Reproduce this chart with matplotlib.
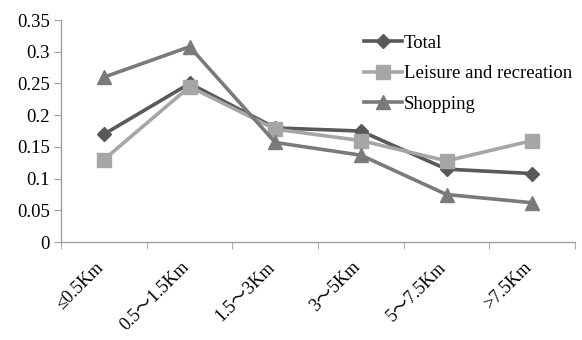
import matplotlib
matplotlib.use("Agg")
import matplotlib.pyplot as plt
from matplotlib.transforms import ScaledTranslation

plt.rcParams['font.family'] = ['Liberation Serif', 'Noto Sans CJK SC', 'DejaVu Sans']

categories = ["≤0.5Km", "0.5～1.5Km", "1.5～3Km", "3～5Km", "5～7.5Km", ">7.5Km"]
total = [0.170, 0.250, 0.180, 0.175, 0.115, 0.108]
leisure = [0.130, 0.245, 0.178, 0.160, 0.128, 0.160]
shopping = [0.260, 0.308, 0.157, 0.137, 0.075, 0.062]

fig = plt.figure(figsize=(5.82, 3.4), dpi=100)
ax = fig.add_axes([0.105, 0.288, 0.883, 0.653])

x = list(range(len(categories)))
ax.plot(x, total, color="#595959", marker="D", markersize=7.5, linewidth=2.6, label="Total")
ax.plot(x, leisure, color="#a6a6a6", marker="s", markersize=10, linewidth=2.6, label="Leisure and recreation")
ax.plot(x, shopping, color="#7a7a7a", marker="^", markersize=10, linewidth=2.6, label="Shopping")

ax.set_xlim(-0.5, len(categories) - 0.5)
ax.set_ylim(0, 0.35)
ax.set_yticks([0, 0.05, 0.1, 0.15, 0.2, 0.25, 0.3, 0.35])
ax.set_yticklabels(["0", "0.05", "0.1", "0.15", "0.2", "0.25", "0.3", "0.35"])
ax.set_xticks(x)
ax.set_xticklabels(categories, rotation=45, ha="right", rotation_mode="anchor")
ax.set_xticks([i - 0.5 for i in range(len(categories) + 1)], minor=True)
ax.tick_params(axis="x", which="major", length=0, labelsize=13, pad=12)
ax.tick_params(axis="x", which="minor", length=5, color="#a0a0a0", direction="out")
ax.tick_params(axis="y", length=5, color="#a0a0a0", labelsize=13.5, pad=3)

offset = ScaledTranslation(-9 / 100, 0, fig.dpi_scale_trans)
for lbl in ax.get_xticklabels():
    lbl.set_transform(lbl.get_transform() + offset)

for s in ["top", "right"]:
    ax.spines[s].set_visible(False)
for s in ["left", "bottom"]:
    ax.spines[s].set_color("#a0a0a0")
    ax.spines[s].set_linewidth(1.0)

ax.legend(loc="upper left", bbox_to_anchor=(0.59, 0.935), frameon=False, fontsize=13.5,
          handlelength=2.0, handletextpad=0.1, labelspacing=0.72, borderaxespad=0,
          borderpad=0)

fig.savefig("out.png", dpi=100)
